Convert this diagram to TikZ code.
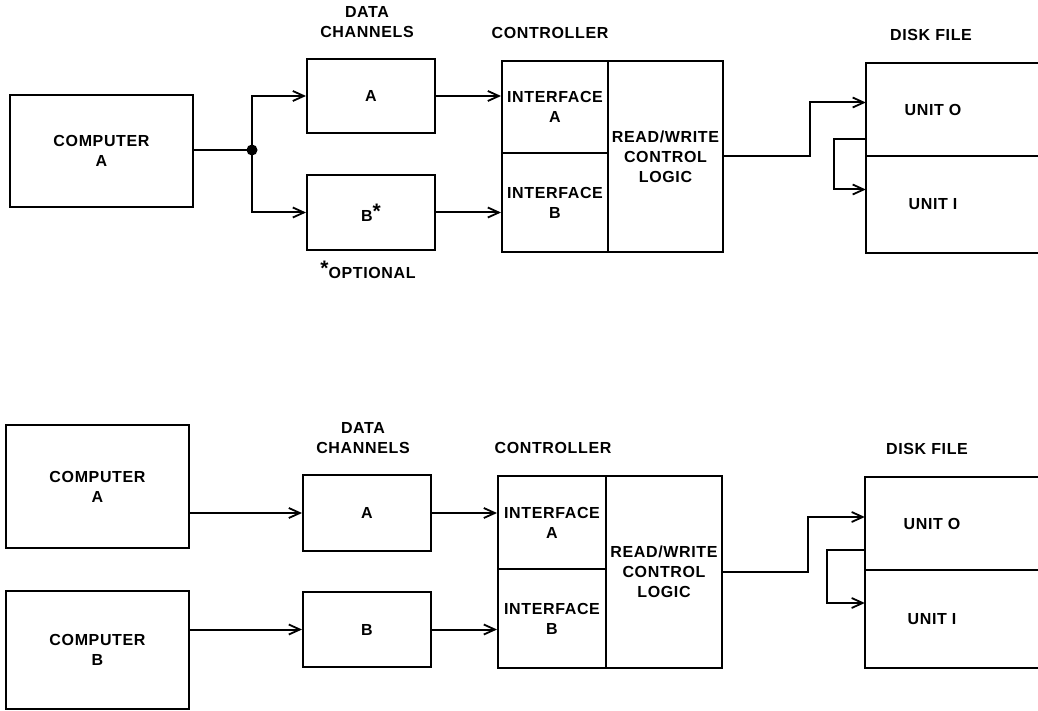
\documentclass[tikz,border=0pt]{standalone}
\usepackage{fontspec}
\setmainfont{Liberation Sans}[LetterSpace=4]
\usetikzlibrary{arrows.meta,calc}
\newcommand\dfont{\fontsize{16}{20}\selectfont\bfseries}
\newcommand\bigast{\raisebox{3pt}{\fontsize{21}{21}\selectfont*}}
\begin{document}
\begin{tikzpicture}[x=1pt,y=-1pt,
  ln/.style={line width=2pt},
  box/.style={draw, line width=2pt, inner sep=0pt, align=center, font=\dfont},
  plain/.style={inner sep=0pt, align=center, font=\dfont},
  lbl/.style={inner sep=0pt, align=center, font=\dfont},
  arr/.style={line width=2pt, -{Straight Barb[length=11pt,width=10pt,line width=1.8pt]}}]
\useasboundingbox (0,0) rectangle (1038,711);
\clip (0,0) rectangle (1038,711);

% ---------------- top diagram ----------------
\node[box, minimum width=183pt, minimum height=112pt] (cA) at (101.5,151) {COMPUTER\\A};
\node[box, minimum width=128pt, minimum height=74pt] (chA) at (371,96) {A};
\node[box, minimum width=128pt, minimum height=75pt] (chB) at (371,212.5) {B\bigast};
\node[lbl] (dc) at (367,22) {DATA\\CHANNELS};
\node[lbl] (opt) at (368,270) {\bigast OPTIONAL};
\node[box, minimum width=106pt, minimum height=92pt] (ifA) at (555,107) {INTERFACE\\A};
\node[box, minimum width=106pt, minimum height=99pt] (ifB) at (555,202.5) {INTERFACE\\B};
\node[box, minimum width=115pt, minimum height=191pt] (rw) at (665.5,156.5) {READ/WRITE\\CONTROL\\LOGIC};
\node[lbl] (ctl) at (550,33) {CONTROLLER};
\node[lbl] (df) at (931,35) {DISK FILE};
\node[plain, minimum width=134pt, minimum height=93pt] (u0) at (933,109.5) {UNIT O};
\node[plain, minimum width=134pt, minimum height=97pt] (u1) at (933,204.5) {UNIT I};
\draw[ln] ([xshift=200pt]u0.north west) -- (u0.north west) -- (u1.south west) -- ([xshift=200pt]u1.south west);
\draw[ln] (u0.south west) -- ([xshift=200pt]u0.south west);

\coordinate (j1) at (252,150);
\draw[ln] (cA.east |- j1) -- (j1);
\draw[arr] (j1) |- (chA.west);
\draw[arr] (j1) |- (chB.west);
\fill (j1) circle (5.5);
\draw[arr] (chA.east) -- (ifA.west |- chA.east);
\draw[arr] (chB.east) -- (ifB.west |- chB.east);
\draw[arr] (rw.east) -- ++(86,0) |- ([yshift=7pt]u0.west);
\draw[arr] ([yshift=-30pt]u0.west) -- ++(-32,0) |- ([yshift=15pt]u1.west);

% ---------------- bottom diagram ----------------
\node[box, minimum width=183pt, minimum height=123pt] (cA2) at (97.5,486.5) {COMPUTER\\A};
\node[box, minimum width=183pt, minimum height=118pt] (cB2) at (97.5,650) {COMPUTER\\B};
\node[box, minimum width=128pt, minimum height=76pt] (chA2) at (367,513) {A};
\node[box, minimum width=128pt, minimum height=75pt] (chB2) at (367,629.5) {B};
\node[lbl] (dc2) at (363,438) {DATA\\CHANNELS};
\node[box, minimum width=108pt, minimum height=93pt] (ifA2) at (552,522.5) {INTERFACE\\A};
\node[box, minimum width=108pt, minimum height=99pt] (ifB2) at (552,618.5) {INTERFACE\\B};
\node[box, minimum width=116pt, minimum height=192pt] (rw2) at (664,572) {READ/WRITE\\CONTROL\\LOGIC};
\node[lbl] (ctl2) at (553,448) {CONTROLLER};
\node[lbl] (df2) at (927,449) {DISK FILE};
\node[plain, minimum width=134pt, minimum height=93pt] (v0) at (932,523.5) {UNIT O};
\node[plain, minimum width=134pt, minimum height=98pt] (v1) at (932,619) {UNIT I};
\draw[ln] ([xshift=200pt]v0.north west) -- (v0.north west) -- (v1.south west) -- ([xshift=200pt]v1.south west);
\draw[ln] (v0.south west) -- ([xshift=200pt]v0.south west);

\draw[arr] (cA2.east |- chA2.west) -- (chA2.west);
\draw[arr] (cB2.east |- chB2.west) -- (chB2.west);
\draw[arr] (chA2.east) -- (ifA2.west |- chA2.east);
\draw[arr] (chB2.east) -- (ifB2.west |- chB2.east);
\draw[arr] (rw2.east) -- ++(85,0) |- ([yshift=6.5pt]v0.west);
\draw[arr] ([yshift=-26.5pt]v0.west) -- ++(-38,0) |- ([yshift=16pt]v1.west);
\end{tikzpicture}
\end{document}
